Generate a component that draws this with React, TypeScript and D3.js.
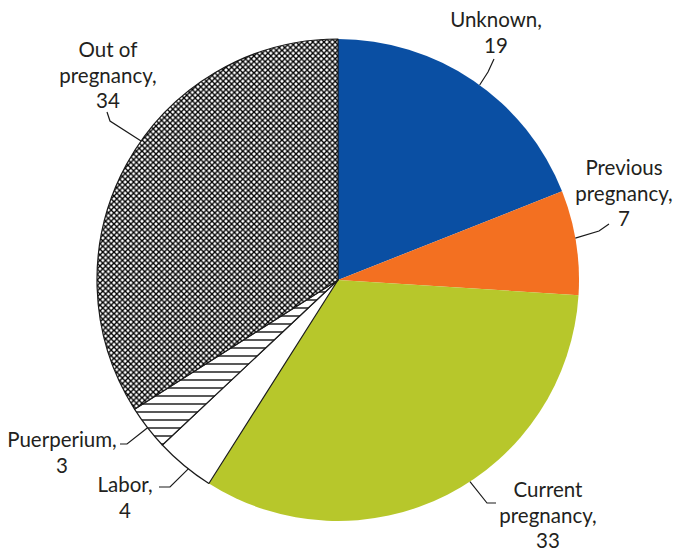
import React from "react";
import * as d3 from "d3";

const categories = ["Unknown", "Previous pregnancy", "Current pregnancy", "Labor", "Puerperium", "Out of pregnancy"];
const values = [19, 7, 33, 4, 3, 34];
const labelLines = [
  ["Unknown,", "19"],
  ["Previous", "pregnancy,", "7"],
  ["Current", "pregnancy,", "33"],
  ["Labor,", "4"],
  ["Puerperium,", "3"],
  ["Out of", "pregnancy,", "34"],
];

// layout (not data)
const W = 677, H = 553;
const CX = 338, CY = 280, R = 241;
const fills = ["#0a4fa3", "#f37021", "#b7c72b", "#ffffff", "url(#hhatch)", "url(#xhatch)"];
const strokes = ["none", "none", "none", "#1a1a1a", "#1a1a1a", "#1a1a1a"];
const labelLayout = [
  { x: 496, y: 27, edgeDeg: 36, pts: [[494, 59], [488, 72]] },
  { x: 624, y: 175, edgeDeg: 80, pts: [[609, 224], [599, 231]] },
  { x: 548, y: 497, edgeDeg: 146.8, pts: [[496, 503], [487, 503]] },
  { x: 125, y: 492, edgeDeg: 218.4, pts: [[159, 487], [170, 487]] },
  { x: 62, y: 447, edgeDeg: 232.2, pts: [[120, 444], [127, 444]] },
  { x: 108, y: 57, edgeDeg: 305.2, pts: [[107, 112], [110, 121]] },
];
const LINE_H = 25.5;

export default function App() {
  const pie = d3.pie<number>().value((d) => d).sort(null).startAngle(0).endAngle(2 * Math.PI);
  const arcs = pie(values);
  const arc = d3.arc<d3.PieArcDatum<number>>().innerRadius(0).outerRadius(R);
  const line = d3.line();

  return (
    <svg width={W} height={H} style={{ position: "absolute", left: 0, top: 0, background: "#fff" }}
      fontFamily="Lato, 'Open Sans', sans-serif">
      <defs>
        <pattern id="xhatch" patternUnits="userSpaceOnUse" width={5.6} height={5.6}>
          <rect width={5.6} height={5.6} fill="#fff" />
          <path d="M0,0L5.6,5.6M5.6,0L0,5.6" stroke="#000" strokeWidth={1.35} />
        </pattern>
        <pattern id="hhatch" patternUnits="userSpaceOnUse" width={10} height={8}>
          <rect width={10} height={8} fill="#fff" />
          <line x1={0} x2={10} y1={4} y2={4} stroke="#111" strokeWidth={1.4} />
        </pattern>
      </defs>
      <g transform={`translate(${CX},${CY})`}>
        {arcs.map((a, i) => (
          <path key={categories[i]} d={arc(a) || ""} fill={fills[i]} stroke={strokes[i]} strokeWidth={1.2} strokeLinejoin="round" />
        ))}
      </g>
      {labelLayout.map((l, i) => {
        const ang = (l.edgeDeg * Math.PI) / 180;
        const edge: [number, number] = [CX + R * Math.sin(ang), CY - R * Math.cos(ang)];
        const pts = [...l.pts, edge] as [number, number][];
        return (
          <path key={"ld" + i} d={line(pts) || ""} fill="none" stroke="#1a1a1a" strokeWidth={1.2} />
        );
      })}
      {labelLayout.map((l, i) => (
        <text key={"lt" + i} textAnchor="middle" fontSize={20.5} fill="#231f20">
          {labelLines[i].map((t, j) => (
            <tspan key={j} x={l.x} y={l.y + j * LINE_H}>{t}</tspan>
          ))}
        </text>
      ))}
    </svg>
  );
}
